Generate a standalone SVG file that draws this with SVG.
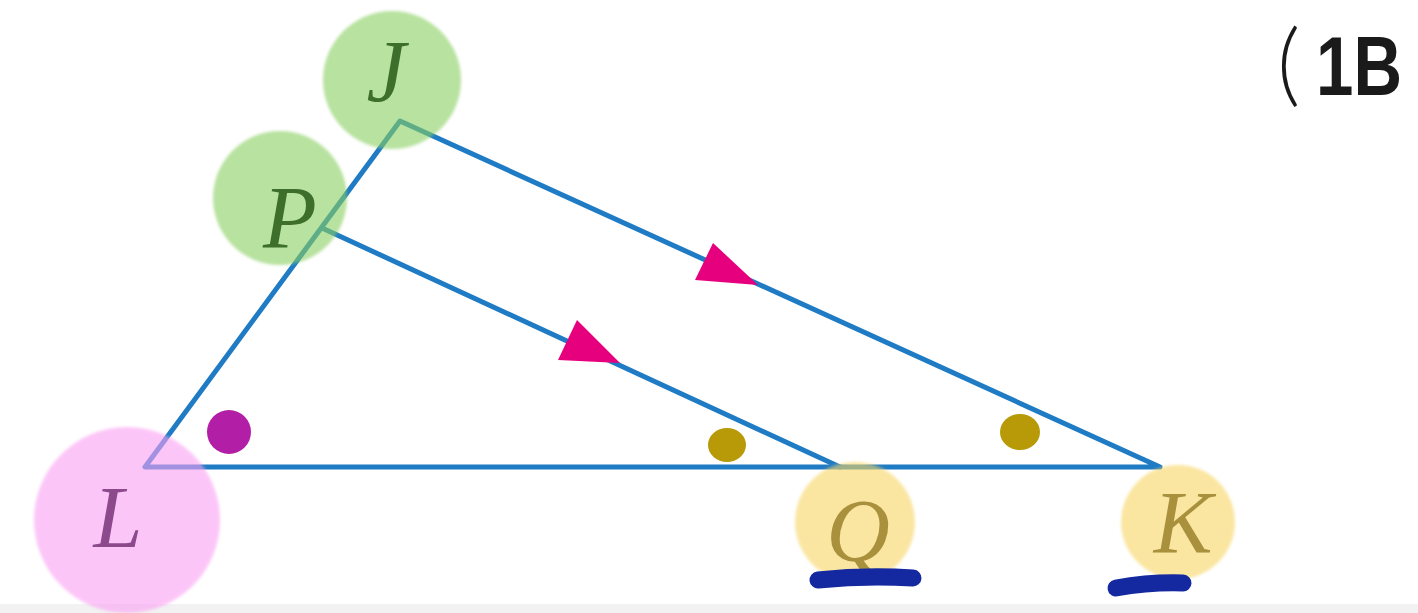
<svg xmlns="http://www.w3.org/2000/svg" width="1418" height="613" viewBox="0 0 1418 613">
<style>
.edge{stroke:#1f7bc4;stroke-width:5;fill:none;stroke-linecap:round;stroke-linejoin:round}
.arrow{fill:#e6007e}
.lbl{font-family:"Liberation Serif","DejaVu Serif",serif;font-style:italic;font-size:88px;text-anchor:middle}
.green circle{fill:#89cf61;opacity:0.6}
.green text{fill:#3d6e2c}
.pink circle{fill:#faa0f3;opacity:0.6}
.pink text{fill:#8c4a8c}
.yellow circle{fill:#f7d564;opacity:0.6}
.yellow text{fill:#a8903c}
.ul{stroke:#1428a0;stroke-width:17;stroke-linecap:round;fill:none}
</style>
<defs>
<filter id="soft" x="-10%" y="-10%" width="120%" height="120%"><feGaussianBlur stdDeviation="1.5"/></filter>
</defs>
<rect x="0" y="0" width="1418" height="613" fill="#ffffff"/>
<rect x="0" y="604" width="1418" height="9" fill="#f2f2f2"/>
<g id="connectors">
<polyline class="edge" points="1160,467 400,121 145,467 1160,467"/>
<line class="edge" x1="322" y1="228" x2="840" y2="467"/>
<polygon class="arrow" points="713,243 758,285 695,280"/>
<polygon class="arrow" points="577,320 620,363 558,360"/>
</g>
<g id="angle-marks">
<circle cx="229" cy="432" r="22" fill="#b21ea6"/>
<ellipse cx="727" cy="445" rx="19" ry="17" fill="#b89a08"/>
<ellipse cx="1020" cy="432" rx="20" ry="18" fill="#b89a08"/>
</g>
<g id="node-J" class="green">
<circle cx="392" cy="80" r="69" filter="url(#soft)"/>
<text class="lbl" x="386" y="101">J</text>
</g>
<g id="node-P" class="green">
<circle cx="280" cy="198" r="67" filter="url(#soft)"/>
<text class="lbl" x="290" y="247">P</text>
</g>
<g id="node-L" class="pink">
<circle cx="127" cy="520" r="93" filter="url(#soft)"/>
<text class="lbl" x="118" y="547">L</text>
</g>
<g id="node-Q" class="yellow">
<circle cx="855" cy="522" r="60" filter="url(#soft)"/>
<text class="lbl" x="858" y="560">Q</text>
</g>
<g id="node-K" class="yellow">
<circle cx="1178" cy="522" r="57" filter="url(#soft)"/>
<text class="lbl" x="1183" y="552">K</text>
</g>
<g id="underlines">
<path class="ul" d="M818,580 Q865,575 913,578"/>
<path class="ul" d="M1116,588 Q1150,582 1183,583"/>
</g>
<g id="title">
<text x="1277" y="95" font-family="Lato,Liberation Sans,sans-serif" font-size="90" font-weight="300" fill="#1a1a1a">(</text>
<text x="1316" y="95" font-family="Liberation Sans,Arial,sans-serif" font-size="84" font-weight="bold" fill="#1a1a1a" textLength="86" lengthAdjust="spacingAndGlyphs">1B</text>
</g>
</svg>
